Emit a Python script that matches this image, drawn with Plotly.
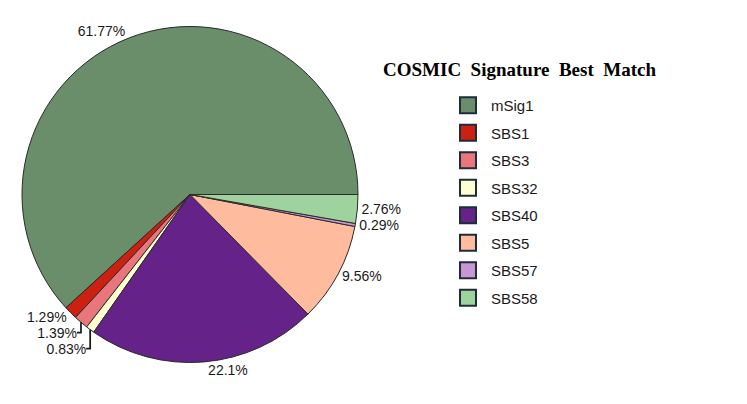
import plotly.graph_objects as go

labels = ["mSig1", "SBS1", "SBS3", "SBS32", "SBS40", "SBS5", "SBS57", "SBS58"]
values = [61.77, 1.29, 1.39, 0.83, 22.1, 9.56, 0.29, 2.76]
text_labels = ["61.77%", "1.29%", "1.39%", "0.83%", "22.1%", "9.56%", "0.29%", "2.76%"]
colors = ["#6a8d6a", "#cc2010", "#e8767c", "#ffffd2", "#652289", "#ffbb9e", "#c896d4", "#9fd39d"]

# first slice should begin at 3 o'clock and run counterclockwise
rot = 90 - 360 * values[0] / sum(values)

fig = go.Figure()
fig.add_trace(go.Pie(
    labels=labels, values=values, text=text_labels,
    textinfo="text", textposition="outside",
    texttemplate="%{text}",
    sort=False, direction="counterclockwise", rotation=rot,
    marker=dict(colors=colors, line=dict(color="#2a2a2a", width=1)),
    textfont=dict(family="Arial, Liberation Sans", size=14, color="#1a1a1a"),
    domain=dict(x=[22/747, 358/747], y=[41/404, 378/404]),
    hoverinfo="label+percent",
    showlegend=False,
))

for lab, col in zip(labels, colors):
    fig.add_trace(go.Scatter(
        x=[None], y=[None], mode="markers", name=lab, legendgroup=lab,
        marker=dict(symbol="square", size=16, color=col, line=dict(color="#1e2d3a", width=2)),
        hoverinfo="skip",
    ))

fig.add_annotation(
    text="<b>COSMIC  Signature  Best  Match</b>",
    x=519/747, y=1-70/404, xref="paper", yref="paper",
    showarrow=False, xanchor="center", yanchor="middle",
    font=dict(family="Times New Roman, Liberation Serif", size=19, color="#000000"),
)

fig.update_layout(
    width=747, height=404,
    margin=dict(l=0, r=0, t=0, b=0),
    paper_bgcolor="white", plot_bgcolor="white",
    showlegend=True,
    xaxis=dict(visible=False), yaxis=dict(visible=False),
    legend=dict(
        x=445/747, y=1-89/404, xanchor="left", yanchor="top",
        font=dict(family="Arial, Liberation Sans", size=15, color="#1a1a1a"),
        bgcolor="rgba(0,0,0,0)",
        tracegroupgap=5,
        itemwidth=36,
    ),
)

fig.write_html("out.html")
